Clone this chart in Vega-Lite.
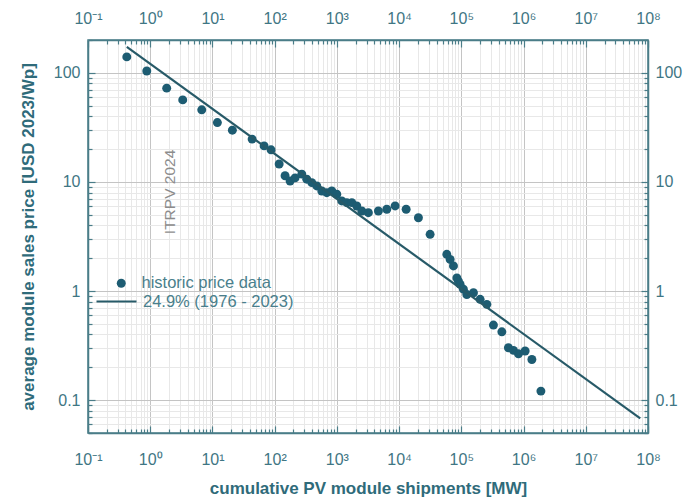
{
  "$schema": "https://vega.github.io/schema/vega-lite/v6.json",
  "width": 560,
  "height": 393,
  "autosize": {"type": "none"},
  "padding": {"left": 88, "top": 40, "right": 51, "bottom": 65},
  "background": "white",
  "config": {
    "view": {"stroke": "#4a7d88", "strokeWidth": 1.5},
    "font": "Liberation Sans",
    "axis": {
      "domainColor": "#4a7d88",
      "domainWidth": 1.5,
      "tickColor": "#4a7d88",
      "tickWidth": 1.2,
      "labelColor": "#3f7684",
      "labelFontSize": 16,
      "labelFont": "Liberation Sans",
      "titleFont": "Liberation Sans",
      "titleColor": "#2f6b7a",
      "titleFontSize": 17,
      "titleFontWeight": "bold"
    }
  },
  "datasets": {
    "hist": [
      {"shipments_MW": 0.42, "price": 140},
      {"shipments_MW": 0.88, "price": 104},
      {"shipments_MW": 1.84, "price": 72.4},
      {"shipments_MW": 3.33, "price": 56.5},
      {"shipments_MW": 6.73, "price": 45.8},
      {"shipments_MW": 12.0, "price": 35.0},
      {"shipments_MW": 20.9, "price": 29.8},
      {"shipments_MW": 43.4, "price": 24.7},
      {"shipments_MW": 67.6, "price": 21.4},
      {"shipments_MW": 87.5, "price": 19.7},
      {"shipments_MW": 118, "price": 14.6},
      {"shipments_MW": 147, "price": 11.4},
      {"shipments_MW": 177, "price": 10.2},
      {"shipments_MW": 213, "price": 10.9},
      {"shipments_MW": 273, "price": 11.8},
      {"shipments_MW": 328, "price": 10.6},
      {"shipments_MW": 395, "price": 9.86},
      {"shipments_MW": 475, "price": 9.19},
      {"shipments_MW": 572, "price": 8.26},
      {"shipments_MW": 688, "price": 7.97},
      {"shipments_MW": 828, "price": 8.26},
      {"shipments_MW": 996, "price": 7.71},
      {"shipments_MW": 1199, "price": 6.70},
      {"shipments_MW": 1443, "price": 6.46},
      {"shipments_MW": 1738, "price": 6.46},
      {"shipments_MW": 2089, "price": 6.02},
      {"shipments_MW": 2512, "price": 5.42},
      {"shipments_MW": 3206, "price": 5.23},
      {"shipments_MW": 4645, "price": 5.42},
      {"shipments_MW": 6339, "price": 5.62},
      {"shipments_MW": 8630, "price": 6.03},
      {"shipments_MW": 12970, "price": 5.62},
      {"shipments_MW": 20420, "price": 4.70},
      {"shipments_MW": 31500, "price": 3.31},
      {"shipments_MW": 58400, "price": 2.17},
      {"shipments_MW": 66100, "price": 1.95},
      {"shipments_MW": 74700, "price": 1.70},
      {"shipments_MW": 84700, "price": 1.32},
      {"shipments_MW": 89800, "price": 1.23},
      {"shipments_MW": 95700, "price": 1.15},
      {"shipments_MW": 108000, "price": 1.04},
      {"shipments_MW": 122500, "price": 0.93},
      {"shipments_MW": 156600, "price": 0.965},
      {"shipments_MW": 200500, "price": 0.84},
      {"shipments_MW": 257000, "price": 0.755},
      {"shipments_MW": 328000, "price": 0.488},
      {"shipments_MW": 448000, "price": 0.423},
      {"shipments_MW": 571000, "price": 0.302},
      {"shipments_MW": 688000, "price": 0.286},
      {"shipments_MW": 828000, "price": 0.266},
      {"shipments_MW": 1060000, "price": 0.282},
      {"shipments_MW": 1360000, "price": 0.236},
      {"shipments_MW": 1900000, "price": 0.121}
    ],
    "fit": [
      {"shipments_MW": 0.42, "price": 173},
      {"shipments_MW": 75000000, "price": 0.068}
    ],
    "note": [
      {"shipments_MW": 2.08, "price": 8.1, "label": "ITRPV 2024"}
    ]
  },
  "layer": [
    {
      "data": {"name": "hist"},
      "mark": {"type": "point", "filled": true, "size": 80, "opacity": 1},
      "encoding": {
        "x": {
          "field": "shipments_MW", "type": "quantitative",
          "scale": {"type": "log", "domain": [0.1, 100000000], "nice": false},
          "axis": {
            "orient": "bottom",
            "title": "cumulative PV module shipments [MW]",
            "titlePadding": 10,
            "values": [0.1,0.2,0.3,0.4,0.5,0.6,0.7,0.8,0.9,1,2,3,4,5,6,7,8,9,10,20,30,40,50,60,70,80,90,100,200,300,400,500,600,700,800,900,1000,2000,3000,4000,5000,6000,7000,8000,9000,10000,20000,30000,40000,50000,60000,70000,80000,90000,100000,200000,300000,400000,500000,600000,700000,800000,900000,1000000,2000000,3000000,4000000,5000000,6000000,7000000,8000000,9000000,10000000,20000000,30000000,40000000,50000000,60000000,70000000,80000000,90000000,100000000],
            "labelExpr": "abs(log(datum.value)/LN10 - round(log(datum.value)/LN10)) < 1e-6 ? '10' + ['⁻¹','⁰','¹','²','³','⁴','⁵','⁶','⁷','⁸'][round(log(datum.value)/LN10) + 1] : ''",
            "labelPadding": 25,
            "labelFlush": false,
            "labelOverlap": false,
            "grid": true,
            "gridColor": {"condition": {"test": "abs(log(datum.value)/LN10 - round(log(datum.value)/LN10)) < 1e-6", "value": "#c4c4c4"}, "value": "#e8e8e8"},
            "gridWidth": 1,
            "tickSize": {"condition": {"test": "abs(log(datum.value)/LN10 - round(log(datum.value)/LN10)) < 1e-6", "value": -7}, "value": -4}
          }
        },
        "y": {
          "field": "price", "type": "quantitative",
          "scale": {"type": "log", "domain": [0.05, 200], "nice": false},
          "axis": {
            "orient": "left",
            "title": "average module sales price [USD 2023/Wp]",
            "titlePadding": 16,
            "values": [0.05,0.06,0.07,0.08,0.09,0.1,0.2,0.3,0.4,0.5,0.6,0.7,0.8,0.9,1,2,3,4,5,6,7,8,9,10,20,30,40,50,60,70,80,90,100,200],
            "labelExpr": "abs(log(datum.value)/LN10 - round(log(datum.value)/LN10)) < 1e-6 ? '' + datum.value : ''",
            "labelPadding": 15,
            "labelFlush": false,
            "labelOverlap": false,
            "grid": true,
            "gridColor": {"condition": {"test": "abs(log(datum.value)/LN10 - round(log(datum.value)/LN10)) < 1e-6", "value": "#c4c4c4"}, "value": "#e8e8e8"},
            "gridWidth": 1,
            "tickSize": {"condition": {"test": "abs(log(datum.value)/LN10 - round(log(datum.value)/LN10)) < 1e-6", "value": -7}, "value": -4}
          }
        },
        "fill": {
          "datum": "historic price data",
          "type": "nominal",
          "scale": {"range": ["#1d5c72"]},
          "legend": {
            "title": null,
            "orient": "none",
            "legendX": 25,
            "legendY": 235,
            "symbolSize": 80,
            "labelOffset": 12,
            "labelFontSize": 16.5,
            "labelColor": "#4a7f8c",
            "padding": 0
          }
        }
      }
    },
    {
      "data": {"name": "fit"},
      "mark": {"type": "line", "strokeWidth": 2.2},
      "encoding": {
        "x": {
          "field": "shipments_MW", "type": "quantitative",
          "axis": {
            "orient": "top",
            "title": null,
            "values": [0.1,0.2,0.3,0.4,0.5,0.6,0.7,0.8,0.9,1,2,3,4,5,6,7,8,9,10,20,30,40,50,60,70,80,90,100,200,300,400,500,600,700,800,900,1000,2000,3000,4000,5000,6000,7000,8000,9000,10000,20000,30000,40000,50000,60000,70000,80000,90000,100000,200000,300000,400000,500000,600000,700000,800000,900000,1000000,2000000,3000000,4000000,5000000,6000000,7000000,8000000,9000000,10000000,20000000,30000000,40000000,50000000,60000000,70000000,80000000,90000000,100000000],
            "labelExpr": "abs(log(datum.value)/LN10 - round(log(datum.value)/LN10)) < 1e-6 ? '10' + ['⁻¹','⁰','¹','²','³','⁴','⁵','⁶','⁷','⁸'][round(log(datum.value)/LN10) + 1] : ''",
            "labelPadding": 21,
            "labelFlush": false,
            "labelOverlap": false,
            "grid": false,
            "tickSize": {"condition": {"test": "abs(log(datum.value)/LN10 - round(log(datum.value)/LN10)) < 1e-6", "value": -7}, "value": -4}
          }
        },
        "y": {
          "field": "price", "type": "quantitative",
          "axis": {
            "orient": "right",
            "title": null,
            "values": [0.05,0.06,0.07,0.08,0.09,0.1,0.2,0.3,0.4,0.5,0.6,0.7,0.8,0.9,1,2,3,4,5,6,7,8,9,10,20,30,40,50,60,70,80,90,100,200],
            "labelExpr": "abs(log(datum.value)/LN10 - round(log(datum.value)/LN10)) < 1e-6 ? '' + datum.value : ''",
            "labelPadding": 14,
            "labelFlush": false,
            "labelOverlap": false,
            "grid": false,
            "tickSize": {"condition": {"test": "abs(log(datum.value)/LN10 - round(log(datum.value)/LN10)) < 1e-6", "value": -7}, "value": -4}
          }
        },
        "stroke": {
          "datum": "24.9% (1976 - 2023)",
          "type": "nominal",
          "scale": {"range": ["#275a68"]},
          "legend": {
            "title": null,
            "orient": "none",
            "legendX": 7,
            "legendY": 240,
            "symbolSize": 1600,
            "symbolStrokeWidth": 2.2,
            "labelOffset": 5,
            "labelFontSize": 16.5,
            "labelColor": "#4a7f8c",
            "padding": 0
          }
        }
      }
    },
    {
      "data": {"name": "note"},
      "mark": {"type": "text", "angle": 270, "fontSize": 15.5, "color": "#8c8c8c", "font": "Liberation Sans"},
      "encoding": {
        "x": {"field": "shipments_MW", "type": "quantitative", "axis": null},
        "y": {"field": "price", "type": "quantitative", "axis": null},
        "text": {"field": "label"}
      }
    }
  ],
  "resolve": {"axis": {"x": "independent", "y": "independent"}}
}
